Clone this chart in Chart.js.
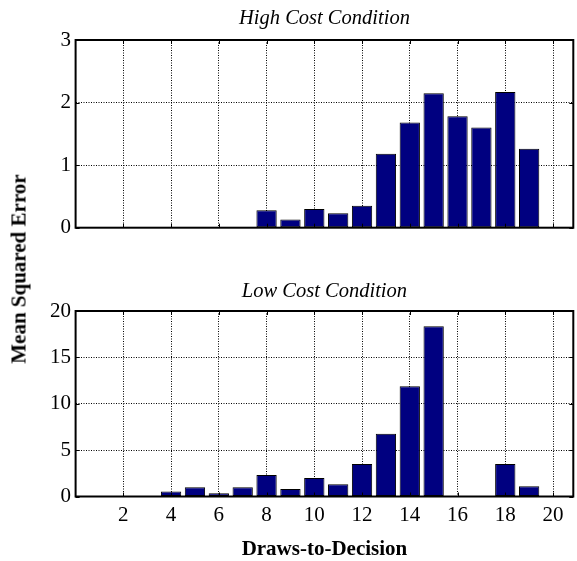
<!DOCTYPE html>
<html>
<head>
<meta charset="utf-8">
<script src="https://cdn.jsdelivr.net/npm/chart.js@4/dist/chart.umd.min.js"></script>
<style>
  body { margin: 0; background: #fff; }
  #wrap { position: relative; width: 577px; height: 561px; background: #fff; }
  canvas { position: absolute; left: 0; }
  #ylab {
    position: absolute; left: 19px; top: 269px;
    transform: translate(-50%, -50%) rotate(-90deg);
    font: bold 21px "Liberation Serif", serif; white-space: nowrap; color: #000;
  }
</style>
</head>
<body>
<div id="wrap">
  <canvas id="highCost" width="577" height="260" style="top:0"></canvas>
  <canvas id="lowCost" width="577" height="301" style="top:260px"></canvas>
  <div id="ylab">Mean Squared Error</div>
</div>
<script>
// draws-to-decision (x) and mean squared error per draw count
const draws = [1, 2, 3, 4, 5, 6, 7, 8, 9, 10, 11, 12, 13, 14, 15, 16, 17, 18, 19, 20];
const highCostMSE = [0, 0, 0, 0, 0, 0, 0, 0.28, 0.13, 0.30, 0.23, 0.35, 1.18, 1.68, 2.15, 1.78, 1.60, 2.17, 1.26, 0];
const lowCostMSE = [0, 0, 0, 0.54, 1.0, 0.36, 1.0, 2.33, 0.82, 2.0, 1.33, 3.5, 6.77, 11.9, 18.35, 0, 0, 3.5, 1.1, 0];
const xTicks = [2, 4, 6, 8, 10, 12, 14, 16, 18, 20];
const highCostTicks = [0, 1, 2, 3];
const lowCostTicks = [0, 5, 10, 15, 20];

const serif = '"Liberation Serif", "Times New Roman", serif';

// MATLAB-like box with inward tick marks
const boxPlugin = {
  id: 'box',
  afterDatasetsDraw(chart) {
    const { ctx, chartArea: a, scales } = chart;
    ctx.save();
    ctx.strokeStyle = '#000';
    ctx.lineWidth = 1;
    ctx.beginPath();
    xTicks.forEach(v => {
      const px = Math.round(scales.x.getPixelForValue(v)) + 0.5;
      ctx.moveTo(px, a.bottom); ctx.lineTo(px, a.bottom - 4);
      ctx.moveTo(px, a.top); ctx.lineTo(px, a.top + 4);
    });
    scales.y.ticks.forEach(t => {
      const py = Math.round(scales.y.getPixelForValue(t.value)) + 0.5;
      ctx.moveTo(a.left, py); ctx.lineTo(a.left + 4, py);
      ctx.moveTo(a.right, py); ctx.lineTo(a.right - 4, py);
    });
    ctx.stroke();
    ctx.lineWidth = 2;
    ctx.strokeRect(a.left, a.top, a.right - a.left, a.bottom - a.top);
    ctx.restore();
  }
};

function makeChart(id, title, values, yTicks, yMax, showX, titlePad, xHeight) {
  return new Chart(document.getElementById(id), {
    type: 'bar',
    data: {
      datasets: [{
        data: draws.map((d, i) => ({ x: d, y: values[i] })),
        backgroundColor: '#000080',
        borderColor: '#000',
        borderWidth: 1,
        borderSkipped: false,
        barPercentage: 0.85,
        categoryPercentage: 1
      }]
    },
    options: {
      responsive: false,
      animation: false,
      layout: { padding: { left: 0, right: 3.7, top: 0, bottom: 0 } },
      plugins: {
        legend: { display: false },
        tooltip: { enabled: false },
        title: {
          display: true,
          text: title,
          fullSize: false,
          color: '#000',
          font: { family: serif, size: 20.5, style: 'italic', weight: 'normal' },
          padding: titlePad
        }
      },
      scales: {
        x: {
          type: 'linear',
          offset: false,
          min: 0,
          max: 20.85,
          afterBuildTicks: s => { s.ticks = xTicks.map(v => ({ value: v })); },
          afterFit: s => { s.height = xHeight; },
          grid: { color: '#000', lineWidth: 1, drawTicks: false, offset: false },
          border: { display: false, dash: [1, 1.5] },
          ticks: {
            display: showX,
            color: '#000',
            padding: 6,
            maxRotation: 0,
            font: { family: serif, size: 21 }
          },
          title: {
            display: showX,
            text: 'Draws-to-Decision',
            color: '#000',
            padding: { top: 0, bottom: 0.5 },
            font: { family: serif, size: 21, weight: 'bold', lineHeight: 1 }
          }
        },
        y: {
          min: 0,
          max: yMax,
          afterBuildTicks: s => { s.ticks = yTicks.map(v => ({ value: v })); },
          afterFit: s => { s.width = 75.6; },
          grid: { color: '#000', lineWidth: 1, drawTicks: false },
          border: { display: false, dash: [1, 1.5] },
          ticks: {
            color: '#000',
            padding: 4.5,
            font: { family: serif, size: 21 }
          }
        }
      }
    },
    plugins: [boxPlugin]
  });
}

makeChart('highCost', 'High Cost Condition', highCostMSE, highCostTicks, 3, false,
  { top: 6.4, bottom: 9 }, 32.3);
makeChart('lowCost', 'Low Cost Condition', lowCostMSE, lowCostTicks, 20, true,
  { top: 19.2, bottom: 7.2 }, 64.5);
</script>
</body>
</html>
